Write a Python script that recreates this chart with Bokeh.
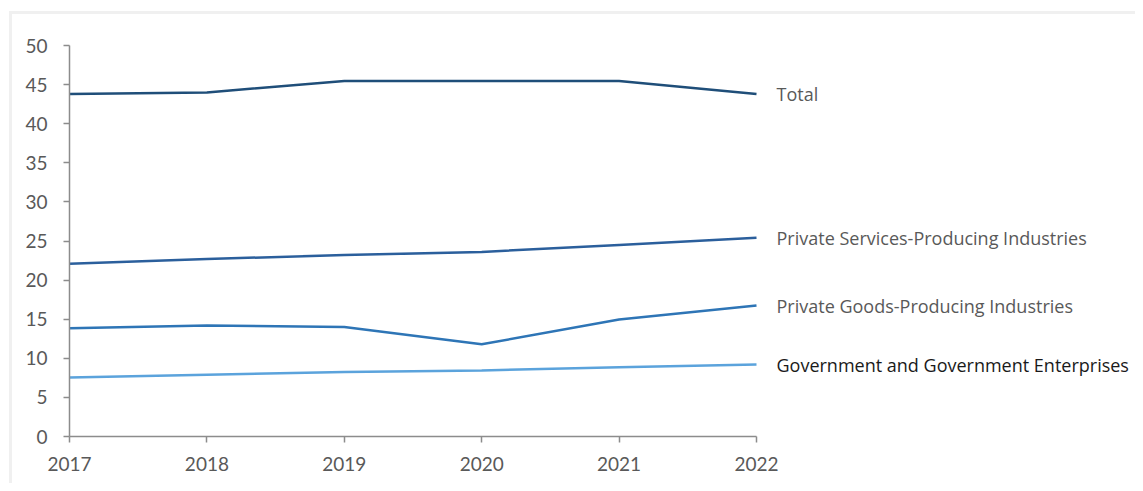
from bokeh.plotting import figure
from bokeh.models import ColumnDataSource, Range1d, FixedTicker
from bokeh.core.properties import value
from bokeh.embed import file_html
from bokeh.resources import INLINE

years = [2017, 2018, 2019, 2020, 2021, 2022]
total = [43.8, 44.0, 45.45, 45.45, 45.45, 43.8]
services = [22.1, 22.7, 23.2, 23.6, 24.5, 25.4]
goods = [13.85, 14.2, 14.0, 11.8, 14.95, 16.75]
government = [7.55, 7.9, 8.25, 8.45, 8.85, 9.2]

series_names = ["Total", "Private Services-Producing Industries",
                "Private Goods-Producing Industries", "Government and Government Enterprises"]
series_values = [total, services, goods, government]
series_colors = ["#1f4e79", "#2b5f9c", "#2e75b6", "#5ba3dc"]
label_colors = ["#595959", "#595959", "#595959", "#1a1a1a"]
y_ticks = [0, 5, 10, 15, 20, 25, 30, 35, 40, 45, 50]

FONT = "Lato"
LABEL_FONT = "Open Sans"

# plot area: 2017 at x=69, 2022 at x=756 -> 137.4 px per year; extend frame to x=1130
x_end = 2017 + (1130 - 69) / ((756 - 69) / 5)

p = figure(width=1135, height=483, output_backend="svg", toolbar_location=None,
           x_range=Range1d(2017, x_end), y_range=Range1d(0, 50),
           min_border_left=69, min_border_right=5, min_border_top=45, min_border_bottom=47)
p.styles = {"background": "linear-gradient(#f0f0f0,#f0f0f0) 9px 11px / 3px 100% no-repeat, "
                          "linear-gradient(#f0f0f0,#f0f0f0) 9px 11px / 100% 3px no-repeat, white"}
p.outline_line_color = None
p.xgrid.visible = False
p.ygrid.visible = False
p.background_fill_color = "white"
p.border_fill_color = None

for ax in (p.xaxis[0], p.yaxis[0]):
    ax.axis_line_color = "#8c8c8c"
    ax.axis_line_width = 1.5
    ax.major_tick_line_color = "#8c8c8c"
    ax.major_tick_line_width = 1.5
    ax.major_tick_in = 0
    ax.major_tick_out = 6
    ax.minor_tick_line_color = None
    ax.major_label_text_font = FONT
    ax.major_label_text_font_size = "19px"
    ax.major_label_text_color = "#595959"

p.xaxis.ticker = FixedTicker(ticks=years)
p.xaxis.bounds = (years[0], years[-1])
p.xaxis.major_label_standoff = 14
p.yaxis.ticker = FixedTicker(ticks=y_ticks)
p.yaxis.major_label_standoff = 16

for name, vals, col, lcol in zip(series_names, series_values, series_colors, label_colors):
    src = ColumnDataSource(dict(x=years, y=vals))
    p.line("x", "y", source=src, line_color=col, line_width=2.5)
    lab = ColumnDataSource(dict(x=[years[-1]], y=[vals[-1]], t=[name]))
    p.text("x", "y", text="t", source=lab, x_offset=20, text_baseline="middle",
           text_align="left", text_font=value(LABEL_FONT), text_font_size="18px",
           text_color=lcol)

open("out.html", "w").write(file_html(p, INLINE))
